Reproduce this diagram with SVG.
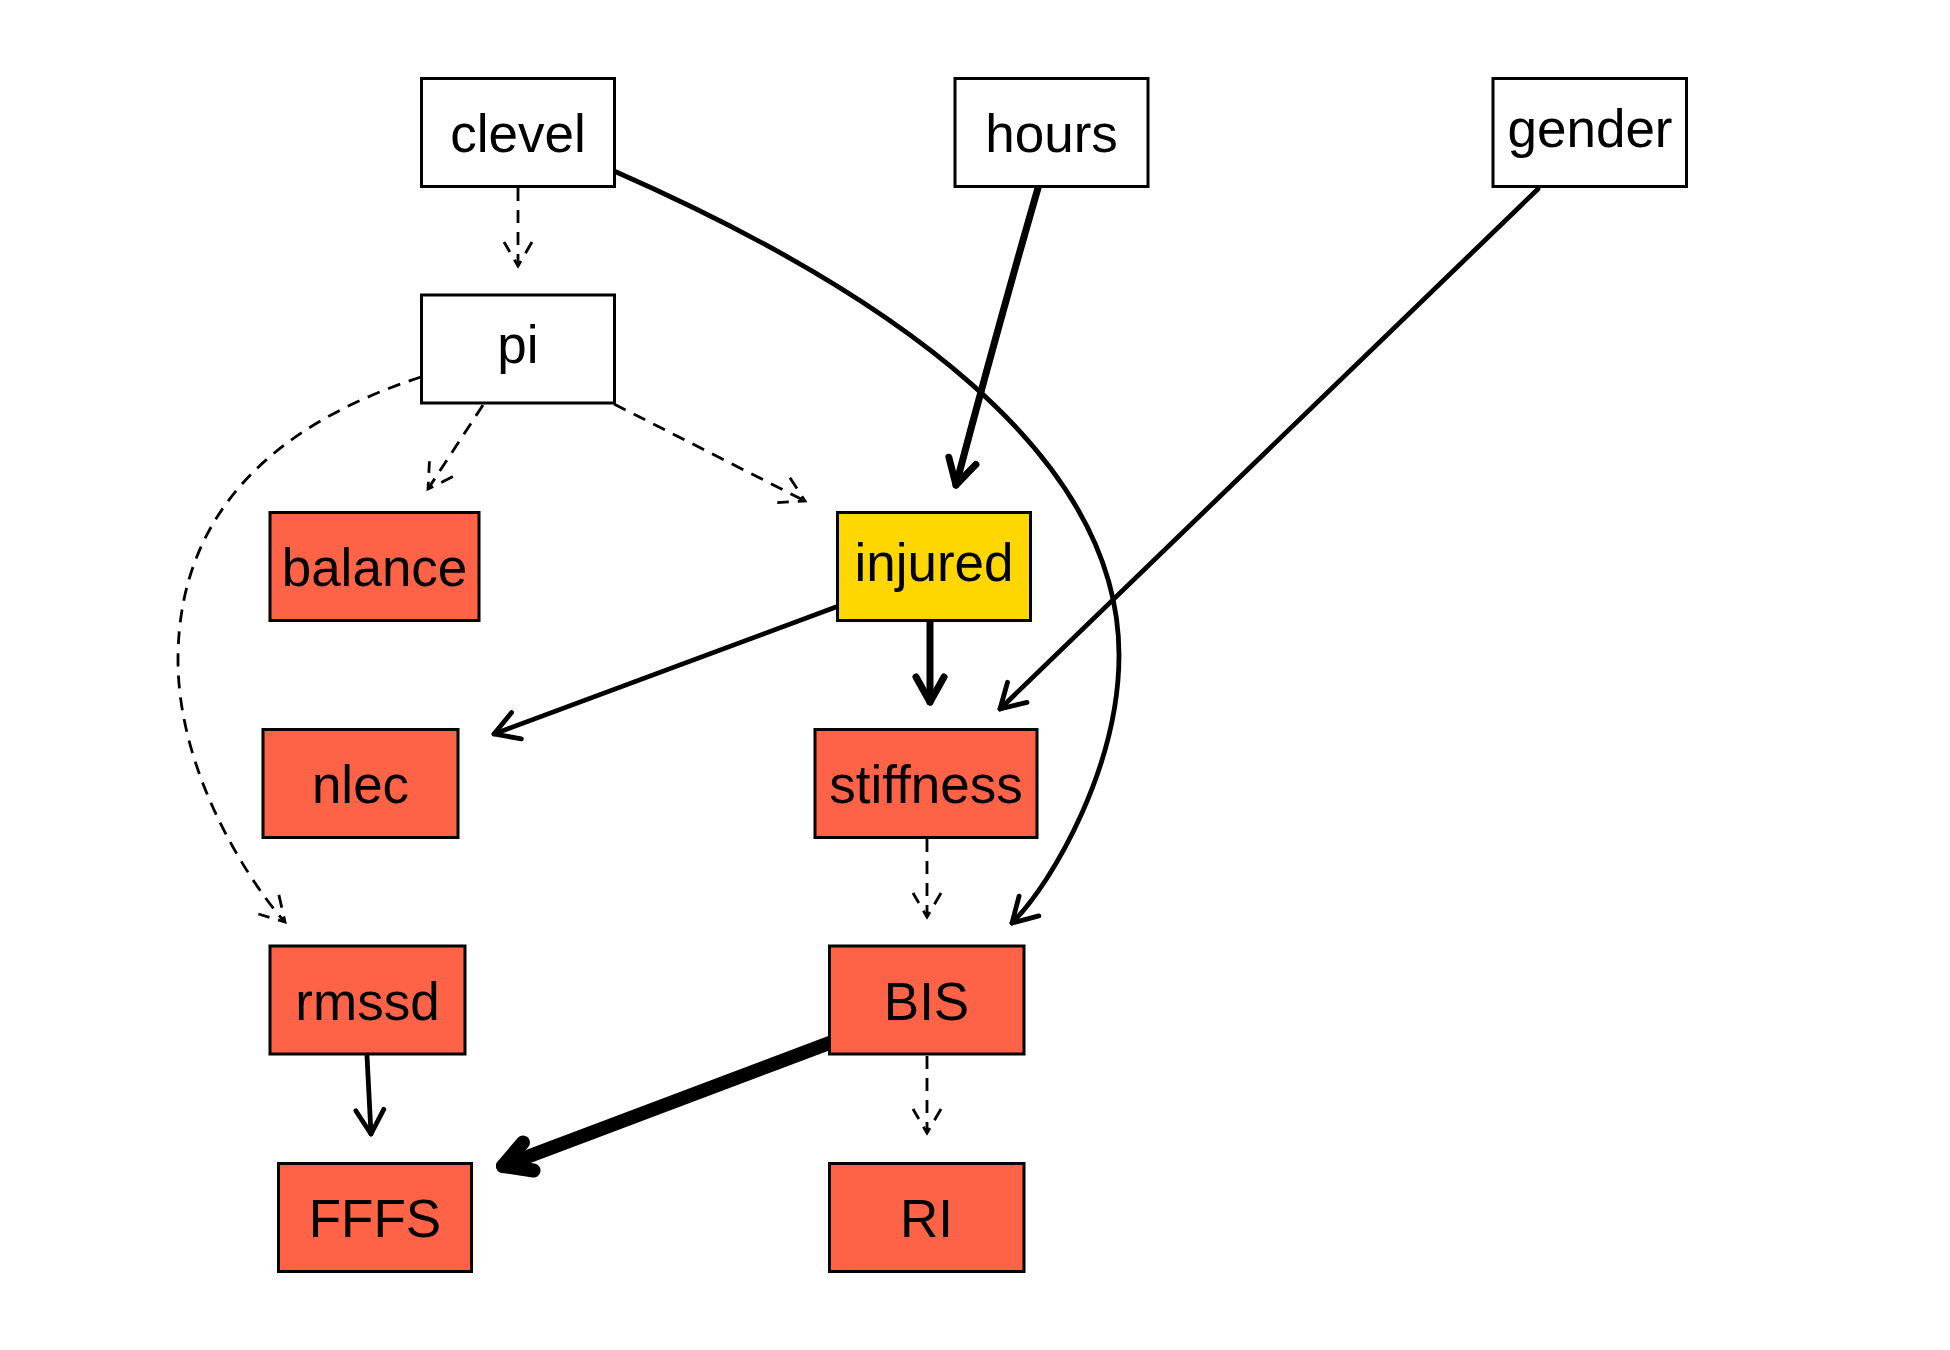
<svg xmlns="http://www.w3.org/2000/svg" width="1950" height="1350" viewBox="0 0 1950 1350">
<style>
  .box { stroke: #000; stroke-width: 3; }
  .plain { fill: #FFFFFF; }
  .red { fill: #FF6347; }
  .gold { fill: #FFD700; }
  .lbl { font-family: "Liberation Sans", Arial, sans-serif; font-size: 53px; fill: #000; text-anchor: middle; }
  .e { fill: none; stroke: #000; stroke-linecap: round; stroke-linejoin: round; }
  .dash { stroke-width: 2.8; stroke-dasharray: 13 9; stroke-linecap: butt; }
  .w4 { stroke-width: 4.8; }
  .w6 { stroke-width: 7; }
  .w12 { stroke-width: 14; }
</style>
<defs>
  <marker id="hDash" markerUnits="userSpaceOnUse" orient="auto" refX="0" refY="0" markerWidth="60" markerHeight="60" viewBox="-40 -30 60 60" style="overflow:visible">
    <path d="M-24,-14 L0,0 L-24,14" fill="none" stroke="#000" stroke-width="2.8" stroke-dasharray="13 9"/>
  </marker>
  <marker id="h4" markerUnits="userSpaceOnUse" orient="auto" refX="0" refY="0" markerWidth="60" markerHeight="60" viewBox="-40 -30 60 60" style="overflow:visible">
    <path d="M-24,-14 L0,0 L-24,14" fill="none" stroke="#000" stroke-width="4.8" stroke-linecap="round" stroke-linejoin="round"/>
  </marker>
  <marker id="h6" markerUnits="userSpaceOnUse" orient="auto" refX="0" refY="0" markerWidth="60" markerHeight="60" viewBox="-40 -30 60 60" style="overflow:visible">
    <path d="M-25,-14 L0,0 L-25,14" fill="none" stroke="#000" stroke-width="7" stroke-linecap="round" stroke-linejoin="round"/>
  </marker>
  <marker id="h12" markerUnits="userSpaceOnUse" orient="auto" refX="0" refY="0" markerWidth="80" markerHeight="80" viewBox="-50 -40 80 80" style="overflow:visible">
    <path d="M-27,-15 L0,0 L-27,15" fill="none" stroke="#000" stroke-width="14" stroke-linecap="round" stroke-linejoin="round"/>
  </marker>
</defs>
<rect x="0" y="0" width="1950" height="1350" fill="#FFFFFF"/>

<g id="connectors">
  <!-- clevel -> pi -->
  <path class="e dash" d="M518,188 L518,266" marker-end="url(#hDash)"/>
  <!-- pi -> balance -->
  <path class="e dash" d="M483,405 L428,489" marker-end="url(#hDash)"/>
  <!-- pi -> injured -->
  <path class="e dash" d="M614,404 L805,501" marker-end="url(#hDash)"/>
  <!-- pi -> rmssd -->
  <path class="e dash" d="M421,377 C307,414 178,490 178,660 C178,780 257.8,892.8 285,922" marker-end="url(#hDash)"/>
  <!-- stiffness -> BIS -->
  <path class="e dash" d="M927,839 L927,917" marker-end="url(#hDash)"/>
  <!-- BIS -> RI -->
  <path class="e dash" d="M927,1056 L927,1133" marker-end="url(#hDash)"/>
  <!-- clevel -> BIS -->
  <path class="e w4" d="M614,171 C894,294 1119,455 1119,655 C1119,765 1054.4,880.6 1012,923" marker-end="url(#h4)"/>
  <!-- hours -> injured -->
  <path class="e w6" d="M1038,188 Q997,330 956,485" marker-end="url(#h6)"/>
  <!-- gender -> stiffness -->
  <path class="e w4" d="M1538,189 L1000,709" marker-end="url(#h4)"/>
  <!-- injured -> stiffness -->
  <path class="e w6" d="M930,621 L930,702" marker-end="url(#h6)"/>
  <!-- injured -> nlec -->
  <path class="e w4" d="M836,607 L494,734" marker-end="url(#h4)"/>
  <!-- rmssd -> FFFS -->
  <path class="e w4" d="M367,1056 L371,1134" marker-end="url(#h4)"/>
  <!-- BIS -> FFFS -->
  <path class="e w12" d="M832,1042 L503,1166" marker-end="url(#h12)"/>
</g>

<g id="node-clevel">
  <rect class="box plain" x="421.5" y="78.5" width="193" height="108"/>
  <text class="lbl" x="518" y="151.5">clevel</text>
</g>
<g id="node-hours">
  <rect class="box plain" x="955" y="78.5" width="193" height="108"/>
  <text class="lbl" x="1051.5" y="151.5">hours</text>
</g>
<g id="node-gender">
  <rect class="box plain" x="1493" y="78.5" width="193.5" height="108"/>
  <text class="lbl" x="1590" y="146.5">gender</text>
</g>
<g id="node-pi">
  <rect class="box plain" x="421.5" y="295" width="193" height="108"/>
  <text class="lbl" x="518" y="363">pi</text>
</g>
<g id="node-balance">
  <rect class="box red" x="270" y="512.5" width="209" height="108"/>
  <text class="lbl" x="374.5" y="586">balance</text>
</g>
<g id="node-injured">
  <rect class="box gold" x="837.5" y="512.5" width="193" height="108"/>
  <text class="lbl" x="934" y="580.5">injured</text>
</g>
<g id="node-nlec">
  <rect class="box red" x="263" y="729.5" width="195" height="108"/>
  <text class="lbl" x="360.5" y="803">nlec</text>
</g>
<g id="node-stiffness">
  <rect class="box red" x="815" y="729.5" width="222" height="108"/>
  <text class="lbl" x="926" y="803">stiffness</text>
</g>
<g id="node-rmssd">
  <rect class="box red" x="270" y="946" width="195" height="108"/>
  <text class="lbl" x="367.5" y="1019.5">rmssd</text>
</g>
<g id="node-BIS">
  <rect class="box red" x="829.5" y="946" width="194.5" height="108"/>
  <text class="lbl" x="926.5" y="1019.5">BIS</text>
</g>
<g id="node-FFFS">
  <rect class="box red" x="278.5" y="1163.5" width="193" height="108"/>
  <text class="lbl" x="375" y="1237">FFFS</text>
</g>
<g id="node-RI">
  <rect class="box red" x="829.5" y="1163.5" width="194.5" height="108"/>
  <text class="lbl" x="926.5" y="1237">RI</text>
</g>
</svg>
